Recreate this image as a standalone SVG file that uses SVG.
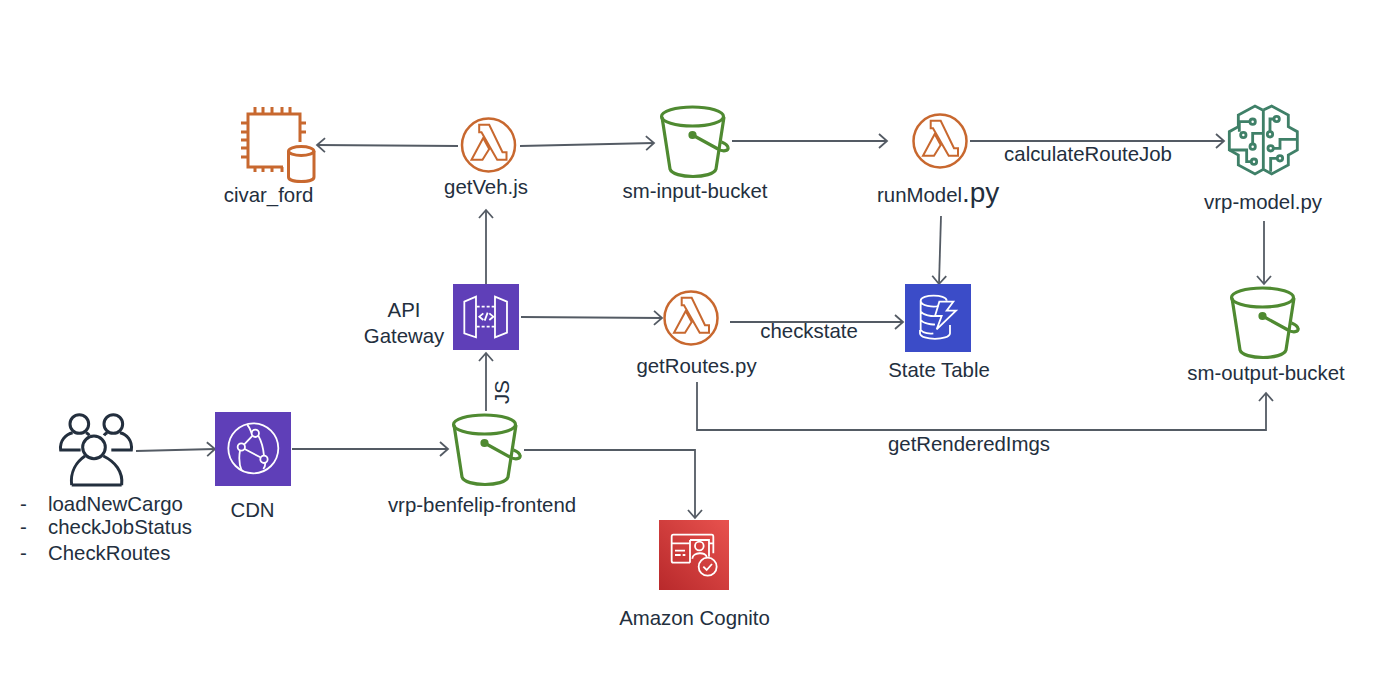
<svg xmlns="http://www.w3.org/2000/svg" width="1392" height="676" viewBox="0 0 1392 676">
<style>
text{font-family:"Liberation Sans",Arial,sans-serif;font-size:20.4px;fill:#232F3E}
.m{text-anchor:middle}
.c{fill:none;stroke:#545B64;stroke-width:1.8;marker-end:url(#a)}
.o{fill:none;stroke:#C8682F;stroke-width:2.5}
.l{fill:none;stroke:#C8682F;stroke-width:2}
.e{fill:none;stroke:#C8682F;stroke-width:3}
.g{fill:none;stroke:#4F8A31;stroke-width:3.200}
.w{fill:none;stroke:#fff;stroke-width:5.400}
.b{fill:none;stroke:#3F8068;stroke-width:8.500}
</style>
<defs>
<marker id="a" markerUnits="userSpaceOnUse" markerWidth="14" markerHeight="18" refX="11" refY="9" orient="auto">
<path d="M3 2L11 9L3 16" fill="none" stroke="#545B64" stroke-width="1.800"/>
</marker>
<linearGradient id="cg" x1="0" y1="1" x2="1" y2="0"><stop offset="0" stop-color="#B8292B"/><stop offset="1" stop-color="#E8524E"/></linearGradient>
<symbol id="lam" overflow="visible"><circle r="26.500" class="o"/><path class="l" d="M-9.300-20.300H.7L14 7.300H18V14.700H8.700L-7-12.700H-9.300ZM-5.300-7L-17 14.700H-6L.7 4Z"/></symbol>
<symbol id="bkt" overflow="visible"><g class="g"><ellipse cx="31.500" cy="9.500" rx="31" ry="9.500"/><path d="M1 10L9 62C12 72 52 72 55 62L63 10"/><path d="M31.500 28L57 42C62 45 68 44 67 40.500C66.500 38 63 36 60.500 35"/><circle cx="31.500" cy="28" r="2.500" fill="#4F8A31"/></g></symbol>
</defs>
<rect width="1392" height="676" fill="#fff"/>
<g id="connectors">
<path class="c" d="M136 451L215 449"/>
<path class="c" d="M292 449H448"/>
<path class="c" d="M486 411V353"/>
<path class="c" d="M486 284V210"/>
<path class="c" d="M458 146L317 145"/>
<path class="c" d="M520 146L654 143"/>
<path class="c" d="M732 141H887"/>
<path class="c" d="M970 141H1224"/>
<path class="c" d="M941 216L939 284"/>
<path class="c" d="M1264 221V284"/>
<path class="c" d="M521 317L662 318"/>
<path class="c" d="M730 322H903"/>
<path class="c" d="M697 382V430H1266V393"/>
<path class="c" d="M524 450H695V518"/>
</g>
<g id="civar_ford">
<path class="e" d="M300 142V114H248V167H283M255 107V114M263 107V114M272 107V114M282 107V114M290 107V114M241 123H248M241 132H248M241 140H248M241 148H248M241 157H248M300 123H306M300 132H306M255 167V172M263 167V172M272 167V172M282 167V172"/>
<path class="e" d="M288.500 151V177C288.500 183 314 183 314 177V151"/><ellipse class="e" cx="301.200" cy="151" rx="12.700" ry="4.500"/>
<text class="m" x="268.500" y="202">civar_ford</text>
</g>
<g id="getVeh"><use href="#lam" x="488.500" y="145"/><text class="m" x="486" y="194">getVeh.js</text></g>
<g id="sm-input-bucket"><use href="#bkt" x="661" y="107"/><text class="m" x="695" y="198">sm-input-bucket</text></g>
<g id="runModel"><use href="#lam" x="940" y="141"/><text x="877" y="202">runModel<tspan font-size="28">.py</tspan></text></g>
<g id="vrp-model"><g transform="translate(1180 100) scale(.3333)">
<path class="b" d="M248 30L225 18L175 45V80L148 95V150L175 165V195L225 222L250 208L275 222L325 195V165L352 150V95L325 80V45L275 18L250 30M250 30V208"/>
<path class="b" d="M210 65H178V95M218 132V100H248M148 150H200V185H214M282 57H270V95M280 145H300V118H350M292 175H272V215"/>
<circle class="b" cx="218" cy="65" r="8"/><circle class="b" cx="190" cy="105" r="8"/><circle class="b" cx="218" cy="140" r="8"/><circle class="b" cx="222" cy="185" r="8"/><circle class="b" cx="290" cy="57" r="8"/><circle class="b" cx="270" cy="103" r="8"/><circle class="b" cx="272" cy="145" r="8"/><circle class="b" cx="300" cy="175" r="8"/>
</g><text class="m" x="1263" y="209">vrp-model.py</text></g>
<g id="api-gateway"><rect x="453" y="284" width="66" height="66" fill="#5F3FB8"/>
<g transform="translate(360 270) scale(.3333)"><path class="w" d="M313 95L348 80V202L313 190ZM405 80L441 95V188L405 202Z"/><path class="w" stroke-dasharray="9 6" d="M350 110H405M350 170H405"/><path class="w" d="M370 130L358 140L370 150M388 130L400 140L388 150M383 128L374 152"/></g>
<text class="m" x="404" y="317">API</text><text class="m" x="404" y="343">Gateway</text></g>
<g id="getRoutes"><use href="#lam" x="691" y="318"/><text class="m" x="696.500" y="373">getRoutes.py</text></g>
<g id="state-table"><rect x="905" y="284" width="66" height="68" fill="#3B4CC8"/>
<g transform="translate(890 270) scale(.3333)" class="w"><path d="M92 92C92 72 170 72 170 92M92 92C92 108 130 112 145 108M92 92V180M92 125C100 135 125 140 140 138M92 150C100 160 125 165 135 163M92 180C100 190 120 192 130 190M90 180V190C92 212 178 212 180 190V165"/><path d="M148 95H190L170 122H198L140 178L155 138H135Z"/></g>
<text class="m" x="939" y="377">State Table</text></g>
<g id="sm-output-bucket"><use href="#bkt" x="1231" y="288"/><text class="m" x="1266" y="380">sm-output-bucket</text></g>
<g id="users"><g transform="translate(10 400) scale(.3333)" fill="none" stroke="#232F3E" stroke-width="9">
<circle cx="208" cy="72" r="28"/><circle cx="310" cy="72" r="28"/><circle cx="252" cy="142" r="34"/>
<path d="M212 150H152C148 122 168 102 188 98M228 98C232 100 236 103 238 106M304 150H364C368 122 350 102 330 98M292 98C288 100 284 103 282 106M185 255C180 215 200 185 225 168M335 255C340 215 315 185 280 168M185 255H335"/></g>
<text x="20" y="511">-</text><text x="48" y="511">loadNewCargo</text>
<text x="20" y="534">-</text><text x="48" y="534">checkJobStatus</text>
<text x="20" y="560">-</text><text x="48" y="560">CheckRoutes</text></g>
<g id="cdn"><rect x="215" y="412" width="76" height="74" fill="#5F3FB8"/>
<g transform="translate(10 400) scale(.3333)" class="w"><circle cx="730" cy="145" r="75"/><circle cx="736" cy="100" r="11"/><circle cx="694" cy="141" r="11"/><circle cx="762" cy="178" r="11"/><path d="M703 133L727 108M704 147L751 172M745 107C755 125 760 145 762 167M690 152C686 175 690 200 695 212M725 100C720 85 715 78 712 75M766 189C766 195 764 202 760 207"/></g>
<text class="m" x="252.500" y="517">CDN</text></g>
<g id="frontend"><use href="#bkt" x="453" y="415"/><text class="m" x="482" y="512">vrp-benfelip-frontend</text></g>
<g id="cognito"><rect x="659" y="520" width="70" height="70" fill="url(#cg)"/>
<g transform="translate(640 510) scale(.3333)" class="w"><path d="M150 158H100C96 158 95 156 95 152V80C95 76 97 74 100 74H215C218 74 220 76 220 80V130M95 100H148M207 100H220M150 90H207V140M150 90V158"/><circle cx="178" cy="108" r="13"/><path d="M157 146C157 125 200 125 200 142"/><path d="M105 122H135M105 135H122M128 135H136"/><circle cx="203" cy="170" r="27"/><path d="M190 170L200 180L216 162"/></g>
<text class="m" x="694.500" y="625">Amazon Cognito</text></g>
<g id="labels">
<text class="m" x="1088" y="161">calculateRouteJob</text>
<text class="m" x="809" y="338">checkstate</text>
<text class="m" x="969" y="451">getRenderedImgs</text>
<text class="m" transform="translate(509 392) rotate(-90)">JS</text>
</g>
</svg>
